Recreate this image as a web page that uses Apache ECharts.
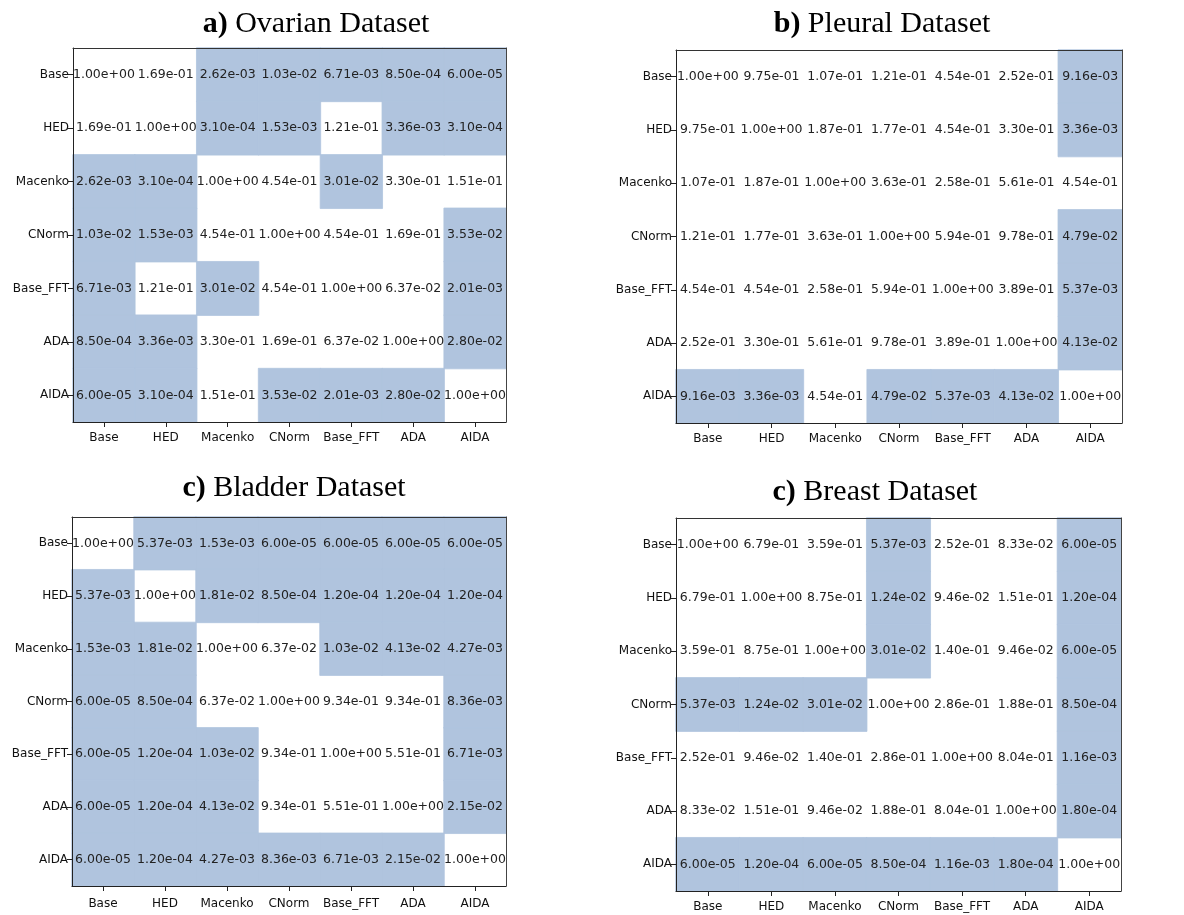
<!DOCTYPE html>
<html>
<head>
<meta charset="utf-8">
<script src="https://cdn.jsdelivr.net/npm/echarts@6/dist/echarts.min.js"></script>
<style>
  html, body { margin: 0; padding: 0; background: #fff; }
  #chart { width: 1184px; height: 915px; }
</style>
</head>
<body>
<div id="chart"></div>
<script>
// method names, same order on both axes
const methods = ['Base', 'HED', 'Macenko', 'CNorm', 'Base_FFT', 'ADA', 'AIDA']

// p-value matrices (row = y label, column = x label)
const ovarian = [
    [1.00e+00, 1.69e-01, 2.62e-03, 1.03e-02, 6.71e-03, 8.50e-04, 6.00e-05],
    [1.69e-01, 1.00e+00, 3.10e-04, 1.53e-03, 1.21e-01, 3.36e-03, 3.10e-04],
    [2.62e-03, 3.10e-04, 1.00e+00, 4.54e-01, 3.01e-02, 3.30e-01, 1.51e-01],
    [1.03e-02, 1.53e-03, 4.54e-01, 1.00e+00, 4.54e-01, 1.69e-01, 3.53e-02],
    [6.71e-03, 1.21e-01, 3.01e-02, 4.54e-01, 1.00e+00, 6.37e-02, 2.01e-03],
    [8.50e-04, 3.36e-03, 3.30e-01, 1.69e-01, 6.37e-02, 1.00e+00, 2.80e-02],
    [6.00e-05, 3.10e-04, 1.51e-01, 3.53e-02, 2.01e-03, 2.80e-02, 1.00e+00],
]

const pleural = [
    [1.00e+00, 9.75e-01, 1.07e-01, 1.21e-01, 4.54e-01, 2.52e-01, 9.16e-03],
    [9.75e-01, 1.00e+00, 1.87e-01, 1.77e-01, 4.54e-01, 3.30e-01, 3.36e-03],
    [1.07e-01, 1.87e-01, 1.00e+00, 3.63e-01, 2.58e-01, 5.61e-01, 4.54e-01],
    [1.21e-01, 1.77e-01, 3.63e-01, 1.00e+00, 5.94e-01, 9.78e-01, 4.79e-02],
    [4.54e-01, 4.54e-01, 2.58e-01, 5.94e-01, 1.00e+00, 3.89e-01, 5.37e-03],
    [2.52e-01, 3.30e-01, 5.61e-01, 9.78e-01, 3.89e-01, 1.00e+00, 4.13e-02],
    [9.16e-03, 3.36e-03, 4.54e-01, 4.79e-02, 5.37e-03, 4.13e-02, 1.00e+00],
]

const bladder = [
    [1.00e+00, 5.37e-03, 1.53e-03, 6.00e-05, 6.00e-05, 6.00e-05, 6.00e-05],
    [5.37e-03, 1.00e+00, 1.81e-02, 8.50e-04, 1.20e-04, 1.20e-04, 1.20e-04],
    [1.53e-03, 1.81e-02, 1.00e+00, 6.37e-02, 1.03e-02, 4.13e-02, 4.27e-03],
    [6.00e-05, 8.50e-04, 6.37e-02, 1.00e+00, 9.34e-01, 9.34e-01, 8.36e-03],
    [6.00e-05, 1.20e-04, 1.03e-02, 9.34e-01, 1.00e+00, 5.51e-01, 6.71e-03],
    [6.00e-05, 1.20e-04, 4.13e-02, 9.34e-01, 5.51e-01, 1.00e+00, 2.15e-02],
    [6.00e-05, 1.20e-04, 4.27e-03, 8.36e-03, 6.71e-03, 2.15e-02, 1.00e+00],
]

const breast = [
    [1.00e+00, 6.79e-01, 3.59e-01, 5.37e-03, 2.52e-01, 8.33e-02, 6.00e-05],
    [6.79e-01, 1.00e+00, 8.75e-01, 1.24e-02, 9.46e-02, 1.51e-01, 1.20e-04],
    [3.59e-01, 8.75e-01, 1.00e+00, 3.01e-02, 1.40e-01, 9.46e-02, 6.00e-05],
    [5.37e-03, 1.24e-02, 3.01e-02, 1.00e+00, 2.86e-01, 1.88e-01, 8.50e-04],
    [2.52e-01, 9.46e-02, 1.40e-01, 2.86e-01, 1.00e+00, 8.04e-01, 1.16e-03],
    [8.33e-02, 1.51e-01, 9.46e-02, 1.88e-01, 8.04e-01, 1.00e+00, 1.80e-04],
    [6.00e-05, 1.20e-04, 6.00e-05, 8.50e-04, 1.16e-03, 1.80e-04, 1.00e+00],
]

const panelTitles = [['a)', 'Ovarian Dataset'], ['b)', 'Pleural Dataset'], ['c)', 'Bladder Dataset'], ['c)', 'Breast Dataset']]
const matrices = [ovarian, pleural, bladder, breast]

// layout of each panel
const grids = [
    { left: 73, top: 48, width: 433, height: 374 },
    { left: 676, top: 50, width: 446, height: 373 },
    { left: 72, top: 517, width: 434, height: 369 },
    { left: 676, top: 518, width: 445, height: 373 },
]
const titlePos = [
    { x: 311, y: 4 },
    { x: 877, y: 4 },
    { x: 289, y: 468 },
    { x: 870, y: 472 },
]
const xLabelMargin = [10, 10, 12, 10]

const SIG = '#b0c4de'
const ALPHA = 0.05

// matplotlib style "%.2e"
function sci(v) {
    const s = v.toExponential(2)
    const [m, e] = s.split('e')
    const sign = e[0]
    let d = e.slice(1)
    if (d.length < 2) d = '0' + d
    return m + 'e' + sign + d
}

const chart = echarts.init(document.getElementById('chart'))

const xAxes = []
const yAxes = []
const series = []
const titles = []

matrices.forEach((mat, i) => {
    // white cells first, shaded cells last so their edges sit on top
    const cells = []
    mat.forEach((row, r) => row.forEach((v, c) => {
        const col = v < ALPHA ? SIG : '#ffffff'
        cells.push({ value: [c, r, v], itemStyle: { color: col, borderColor: col, borderWidth: 0.8 } })
    }))
    cells.sort((a, b) => (a.value[2] < ALPHA ? 1 : 0) - (b.value[2] < ALPHA ? 1 : 0))

    titles.push({
        text: '{b|' + panelTitles[i][0] + '} ' + panelTitles[i][1],
        left: titlePos[i].x,
        top: titlePos[i].y,
        textAlign: 'center',
        textStyle: {
            fontFamily: 'Liberation Serif',
            fontSize: 30,
            fontWeight: 'normal',
            color: '#000',
            rich: { b: { fontFamily: 'Liberation Serif', fontSize: 30, fontWeight: 'bold', color: '#000' } },
        },
    })

    xAxes.push({
        type: 'category',
        gridIndex: i,
        data: methods,
        position: 'bottom',
        z: 10,
        axisLine: { show: true, lineStyle: { color: '#222', width: 1 } },
        axisTick: { show: true, alignWithLabel: true, length: 5, lineStyle: { color: '#222' } },
        axisLabel: { fontFamily: 'DejaVu Sans', fontSize: 12, color: '#111', margin: xLabelMargin[i], interval: 0 },
        splitLine: { show: false },
        splitArea: { show: false },
    })
    xAxes.push({
        type: 'category',
        gridIndex: i,
        data: methods,
        position: 'top',
        z: 10,
        axisLine: { show: true, lineStyle: { color: '#333', width: 1 } },
        axisTick: { show: false },
        axisLabel: { show: false },
    })
    yAxes.push({
        type: 'category',
        gridIndex: i,
        data: methods,
        inverse: true,
        position: 'left',
        z: 10,
        axisLine: { show: true, lineStyle: { color: '#222', width: 1 } },
        axisTick: { show: true, alignWithLabel: true, length: 5, lineStyle: { color: '#222' } },
        axisLabel: { fontFamily: 'DejaVu Sans', fontSize: 12, color: '#111', margin: 4, interval: 0 },
        splitLine: { show: false },
        splitArea: { show: false },
    })
    yAxes.push({
        type: 'category',
        gridIndex: i,
        data: methods,
        inverse: true,
        position: 'right',
        z: 10,
        axisLine: { show: true, lineStyle: { color: '#444', width: 1 } },
        axisTick: { show: false },
        axisLabel: { show: false },
    })

    series.push({
        type: 'heatmap',
        xAxisIndex: i * 2,
        yAxisIndex: i * 2,
        data: cells,
        label: {
            show: true,
            fontFamily: 'DejaVu Sans',
            fontSize: 12.5,
            color: '#222',
            formatter: (p) => sci(p.value[2]),
        },
        emphasis: { disabled: true },
    })
})

chart.setOption({
    animation: false,
    backgroundColor: '#fff',
    title: titles,
    grid: grids,
    xAxis: xAxes,
    yAxis: yAxes,
    series: series,
})
</script>
</body>
</html>
